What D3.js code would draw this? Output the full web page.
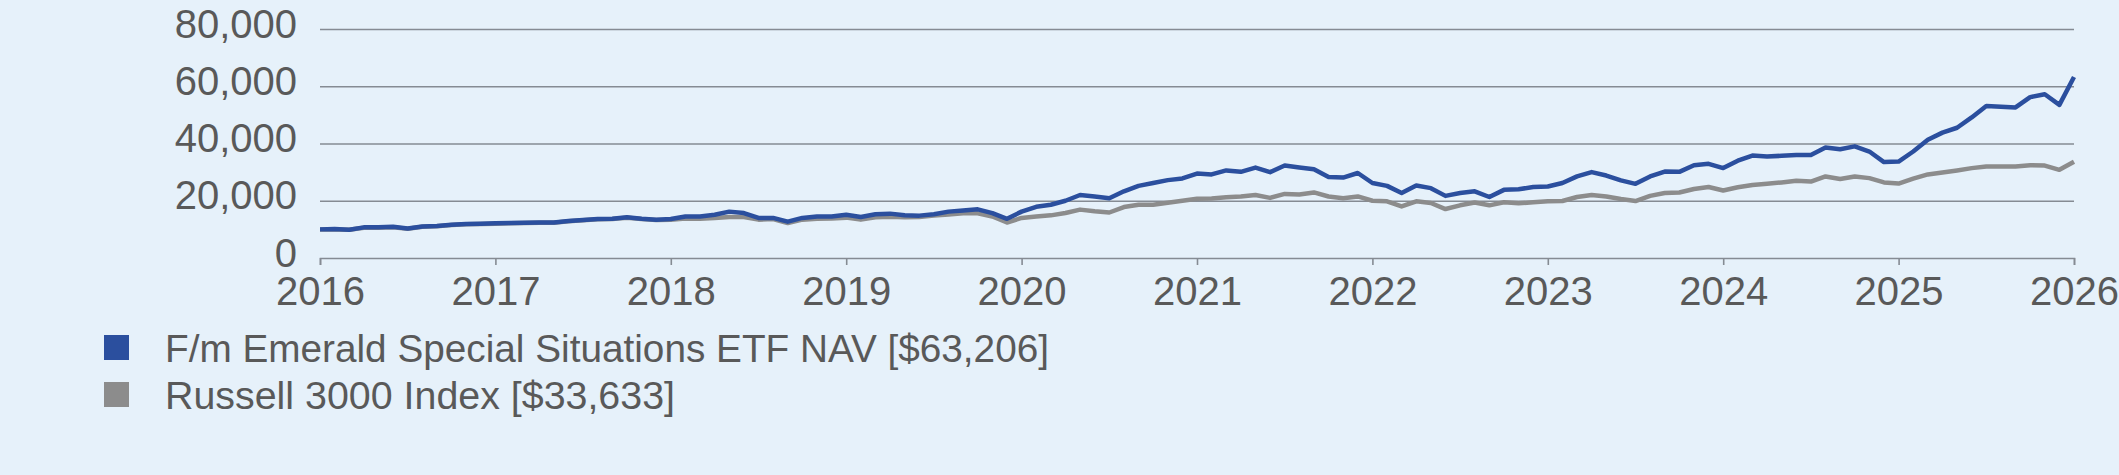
<!DOCTYPE html>
<html lang="en">

<head>
  <meta charset="UTF-8" />
  <title>Growth of $10,000</title>
  <script src="https://d3js.org/d3.v7.min.js"></script>
  <style>
    html, body {
      margin: 0;
      padding: 0;
      background: #e6f1fa;
    }

    svg {
      display: block;
      font-family: "Liberation Sans", Arial, sans-serif;
    }

    .axis text {
      font-size: 40px;
      fill: #595959;
    }

    .legend text {
      font-size: 38px;
      fill: #595959;
    }
  </style>
</head>

<body>
  <svg width="2119" height="475"></svg>

  <script>
    // monthly values, Jan 2016 .. Jan 2026
    const startYear = 2016;
    const yearTicks = [2016, 2017, 2018, 2019, 2020, 2021, 2022, 2023, 2024, 2025, 2026];
    const valueTicks = [0, 20000, 40000, 60000, 80000];

    const fundValues = [
      10000, 10100, 9900, 10700, 10700, 10900, 10300, 11000, 11200, 11600, 11900, 12000,
      12100, 12200, 12300, 12400, 12400, 12900, 13300, 13600, 13700, 14200, 13700, 13400,
      13600, 14500, 14500, 15100, 16200, 15700, 14000, 14000, 12700, 14000, 14500, 14500,
      15100, 14300, 15300, 15500, 14900, 14800, 15300, 16200, 16600, 17000, 15700, 13700,
      16200, 17900, 18600, 20000, 22000, 21500, 20900, 23300, 25200, 26200, 27200, 27800,
      29500, 29200, 30600, 30100, 31600, 30000, 32300, 31600, 31000, 28300, 28100, 29700,
      26200, 25200, 22700, 25300, 24400, 21700, 22700, 23300, 21300, 23800, 24000, 24800,
      25000, 26200, 28500, 30000, 28800, 27100, 25900, 28500, 30200, 30100, 32400, 32900,
      31400, 34000, 35800, 35500, 35700, 36000, 36000, 38600, 38000, 39000, 37200, 33500,
      33700, 37200, 41300, 43800, 45500, 49100, 53100, 52800, 52600, 56200, 57200, 53500,
      63206
    ];

    const indexValues = [
      10000, 10000, 9900, 10600, 10600, 10700, 10200, 10900, 11100, 11500, 11800, 11900,
      12000, 12100, 12200, 12300, 12300, 12800, 13200, 13500, 13600, 14100, 13600, 13300,
      13400, 13800, 13700, 14000, 14300, 14300, 13400, 13600, 12200, 13400, 13700, 13800,
      14100, 13400, 14200, 14400, 14200, 14300, 14800, 15200, 15600, 15600, 14500, 12400,
      14000, 14500, 14900, 15700, 16900, 16300, 15900, 17800, 18600, 18600, 19300, 20000,
      20700, 20800, 21200, 21500, 22000, 21000, 22400, 22200, 22900, 21500, 20900, 21500,
      20000, 19800, 18000, 19800, 19200, 17100, 18400, 19400, 18400, 19500, 19100, 19500,
      19800, 19900, 21300, 22000, 21500, 20600, 19900, 21700, 22700, 22900, 24100, 24800,
      23600, 24700, 25500, 25900, 26400, 27000, 26700, 28500, 27600, 28500, 27900, 26400,
      26000, 27700, 29200, 29900, 30600, 31400, 32000, 32000, 32000, 32400, 32300, 30800,
      33633
    ];

    const seriesNames = [
      "F/m Emerald Special Situations ETF NAV [$63,206]",
      "Russell 3000 Index [$33,633]"
    ];
    const seriesColors = ["#2b4f9e", "#8c8c8c"];

    const svg = d3.select("svg");
    const x = d3.scaleLinear().domain([2016, 2026]).range([320, 2074]);
    const y = d3.scaleLinear().domain([0, 80000]).range([258, 29]);

    // gridlines + y labels
    const yAxis = svg.append("g")
      .attr("class", "axis")
      .attr("transform", "translate(320,0)")
      .call(d3.axisLeft(y)
        .tickValues(valueTicks)
        .tickSize(-(2074 - 320))
        .tickPadding(23)
        .tickFormat(d3.format(",")));
    yAxis.select(".domain").remove();
    yAxis.selectAll(".tick line")
      .attr("stroke", "#858b93")
      .attr("stroke-width", 1.6)
      .filter(d => d === 0).remove();
    yAxis.selectAll(".tick text").attr("dy", "0.2em");

    // x axis
    const xAxis = svg.append("g")
      .attr("class", "axis")
      .attr("transform", `translate(0,${y(0)})`)
      .call(d3.axisBottom(x)
        .tickValues(yearTicks)
        .tickSize(7)
        .tickPadding(12)
        .tickFormat(d3.format("d")));
    xAxis.select(".domain").attr("stroke", "#858b93").attr("stroke-width", 1.6);
    xAxis.selectAll(".tick line").attr("stroke", "#858b93").attr("stroke-width", 1.6);

    const line = d3.line()
      .x((d, i) => x(startYear + i / 12))
      .y(d => y(d));

    [indexValues, fundValues].forEach((vals, k) => {
      svg.append("path")
        .datum(vals)
        .attr("fill", "none")
        .attr("stroke", seriesColors[1 - k])
        .attr("stroke-width", 4.5)
        .attr("stroke-linejoin", "round")
        .attr("d", line);
    });

    // legend
    const legend = svg.append("g").attr("class", "legend");
    const legendWidths = [884, 510];
    seriesNames.forEach((name, i) => {
      const g = legend.append("g").attr("transform", `translate(104,${335 + i * 47})`);
      g.append("rect")
        .attr("width", 25)
        .attr("height", 25)
        .attr("fill", seriesColors[i]);
      g.append("text")
        .attr("x", 61)
        .attr("y", 27)
        .attr("textLength", legendWidths[i])
        .attr("lengthAdjust", "spacingAndGlyphs")
        .text(name);
    });
  </script>
</body>

</html>
